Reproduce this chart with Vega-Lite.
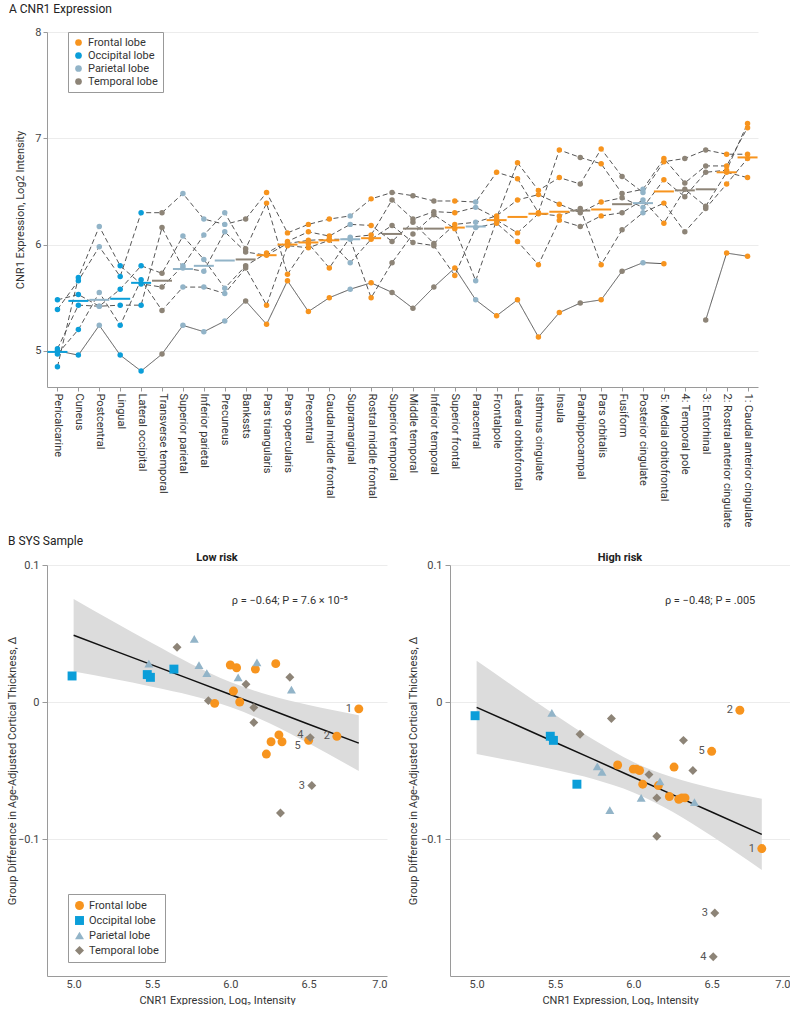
{
  "$schema": "https://vega.github.io/schema/vega-lite/v6.json",
  "background": "white",
  "padding": {"left": 6, "top": 3, "right": 0, "bottom": 0},
  "config": {
    "font": "Liberation Sans Narrow, Roboto, sans-serif",
    "view": {"stroke": null},
    "axis": {"domainColor": "#9a9a9a", "tickColor": "#9a9a9a", "labelColor": "#444", "titleColor": "#333", "labelFontSize": 11, "titleFontSize": 11, "titleFontWeight": "normal", "gridColor": "#ececec"},
    "title": {"color": "#222", "fontWeight": "normal", "fontSize": 12}
  },
  "datasets": {
    "regions": [
      {"region": "Pericalcarine", "lobe": "Occipital lobe", "d1": 5.00, "d2": 5.39, "d3": 4.85, "d4": 5.48, "d5": 5.02, "d6": 4.97, "med": 4.99, "lr": 0.019, "hr": -0.010, "lab": ""},
      {"region": "Cuneus", "lobe": "Occipital lobe", "d1": 4.96, "d2": 5.66, "d3": 5.69, "d4": 5.53, "d5": 5.43, "d6": 5.20, "med": 5.47, "lr": 0.020, "hr": -0.025, "lab": ""},
      {"region": "Postcentral", "lobe": "Parietal lobe", "d1": 5.24, "d2": 5.98, "d3": 6.17, "d4": 5.42, "d5": 5.42, "d6": 5.55, "med": 5.48, "lr": 0.028, "hr": -0.008, "lab": ""},
      {"region": "Lingual", "lobe": "Occipital lobe", "d1": 4.96, "d2": 5.70, "d3": 5.80, "d4": 5.58, "d5": 5.43, "d6": 5.24, "med": 5.49, "lr": 0.018, "hr": -0.028, "lab": ""},
      {"region": "Lateral occipital", "lobe": "Occipital lobe", "d1": 4.81, "d2": 6.30, "d3": 5.63, "d4": 5.80, "d5": 5.43, "d6": 5.67, "med": 5.64, "lr": 0.024, "hr": -0.060, "lab": ""},
      {"region": "Transverse temporal", "lobe": "Temporal lobe", "d1": 4.97, "d2": 6.30, "d3": 5.60, "d4": 5.73, "d5": 6.16, "d6": 5.38, "med": 5.66, "lr": 0.040, "hr": -0.0235, "lab": ""},
      {"region": "Superior parietal", "lobe": "Parietal lobe", "d1": 5.24, "d2": 6.48, "d3": 5.80, "d4": 6.08, "d5": 5.78, "d6": 5.60, "med": 5.77, "lr": 0.046, "hr": -0.047, "lab": ""},
      {"region": "Inferior parietal", "lobe": "Parietal lobe", "d1": 5.18, "d2": 6.24, "d3": 6.09, "d4": 5.86, "d5": 5.75, "d6": 5.60, "med": 5.80, "lr": 0.027, "hr": -0.051, "lab": ""},
      {"region": "Precuneus", "lobe": "Parietal lobe", "d1": 5.28, "d2": 6.19, "d3": 6.30, "d4": 5.59, "d5": 6.12, "d6": 5.54, "med": 5.85, "lr": 0.021, "hr": -0.079, "lab": ""},
      {"region": "Bankssts", "lobe": "Temporal lobe", "d1": 5.47, "d2": 6.24, "d3": 5.96, "d4": 5.80, "d5": 5.93, "d6": 5.78, "med": 5.86, "lr": 0.001, "hr": -0.012, "lab": ""},
      {"region": "Pars triangularis", "lobe": "Frontal lobe", "d1": 5.25, "d2": 6.49, "d3": 6.39, "d4": 5.92, "d5": 5.90, "d6": 5.43, "med": 5.90, "lr": -0.001, "hr": -0.046, "lab": ""},
      {"region": "Pars opercularis", "lobe": "Frontal lobe", "d1": 5.66, "d2": 6.11, "d3": 5.72, "d4": 6.03, "d5": 6.01, "d6": 5.99, "med": 6.00, "lr": 0.027, "hr": -0.049, "lab": ""},
      {"region": "Precentral", "lobe": "Frontal lobe", "d1": 5.37, "d2": 6.19, "d3": 6.01, "d4": 6.12, "d5": 6.04, "d6": 5.97, "med": 6.02, "lr": 0.008, "hr": -0.049, "lab": ""},
      {"region": "Caudal middle frontal", "lobe": "Frontal lobe", "d1": 5.50, "d2": 6.24, "d3": 5.78, "d4": 6.08, "d5": 6.05, "d6": 6.04, "med": 6.04, "lr": 0.025, "hr": -0.050, "lab": ""},
      {"region": "Supramarginal", "lobe": "Parietal lobe", "d1": 5.58, "d2": 6.27, "d3": 6.07, "d4": 6.19, "d5": 6.05, "d6": 5.83, "med": 6.05, "lr": 0.018, "hr": -0.070, "lab": ""},
      {"region": "Rostral middle frontal", "lobe": "Frontal lobe", "d1": 5.64, "d2": 6.43, "d3": 6.09, "d4": 6.18, "d5": 5.50, "d6": 6.05, "med": 6.06, "lr": 0.000, "hr": -0.060, "lab": ""},
      {"region": "Superior temporal", "lobe": "Temporal lobe", "d1": 5.55, "d2": 6.49, "d3": 6.42, "d4": 6.03, "d5": 5.83, "d6": 6.18, "med": 6.10, "lr": 0.013, "hr": -0.053, "lab": ""},
      {"region": "Middle temporal", "lobe": "Temporal lobe", "d1": 5.40, "d2": 6.46, "d3": 6.24, "d4": 6.21, "d5": 6.10, "d6": 6.02, "med": 6.15, "lr": -0.004, "hr": -0.070, "lab": ""},
      {"region": "Inferior temporal", "lobe": "Temporal lobe", "d1": 5.60, "d2": 6.41, "d3": 6.31, "d4": 6.01, "d5": 6.28, "d6": 5.99, "med": 6.15, "lr": -0.015, "hr": -0.098, "lab": ""},
      {"region": "Superior frontal", "lobe": "Frontal lobe", "d1": 5.78, "d2": 6.41, "d3": 6.30, "d4": 6.19, "d5": 6.15, "d6": 5.71, "med": 6.16, "lr": 0.024, "hr": -0.061, "lab": ""},
      {"region": "Paracentral", "lobe": "Parietal lobe", "d1": 5.48, "d2": 6.40, "d3": 6.35, "d4": 6.21, "d5": 5.66, "d6": 6.16, "med": 6.17, "lr": 0.029, "hr": -0.058, "lab": ""},
      {"region": "Frontalpole", "lobe": "Frontal lobe", "d1": 5.33, "d2": 6.68, "d3": 6.25, "d4": 6.27, "d5": 6.23, "d6": 6.20, "med": 6.23, "lr": -0.038, "hr": -0.069, "lab": ""},
      {"region": "Lateral orbitofrontal", "lobe": "Frontal lobe", "d1": 5.48, "d2": 6.62, "d3": 6.77, "d4": 6.42, "d5": 6.11, "d6": 6.03, "med": 6.26, "lr": -0.029, "hr": -0.0475, "lab": ""},
      {"region": "Isthmus cingulate", "lobe": "Frontal lobe", "d1": 5.13, "d2": 6.30, "d3": 6.51, "d4": 6.47, "d5": 6.29, "d6": 5.81, "med": 6.29, "lr": 0.028, "hr": -0.071, "lab": ""},
      {"region": "Insula", "lobe": "Frontal lobe", "d1": 5.36, "d2": 6.89, "d3": 6.63, "d4": 6.38, "d5": 6.27, "d6": 6.23, "med": 6.31, "lr": -0.024, "hr": -0.070, "lab": ""},
      {"region": "Parahippocampal", "lobe": "Temporal lobe", "d1": 5.45, "d2": 6.82, "d3": 6.57, "d4": 6.30, "d5": 6.34, "d6": 6.17, "med": 6.32, "lr": -0.081, "hr": -0.028, "lab": ""},
      {"region": "Pars orbitalis", "lobe": "Frontal lobe", "d1": 5.48, "d2": 6.76, "d3": 6.90, "d4": 6.40, "d5": 5.81, "d6": 6.27, "med": 6.33, "lr": -0.029, "hr": -0.070, "lab": ""},
      {"region": "Fusiform", "lobe": "Temporal lobe", "d1": 5.75, "d2": 6.48, "d3": 6.64, "d4": 6.44, "d5": 6.14, "d6": 6.30, "med": 6.38, "lr": 0.018, "hr": -0.050, "lab": ""},
      {"region": "Posterior cingulate", "lobe": "Parietal lobe", "d1": 5.83, "d2": 6.52, "d3": 6.49, "d4": 6.35, "d5": 6.30, "d6": 6.42, "med": 6.39, "lr": 0.009, "hr": -0.073, "lab": ""},
      {"region": "5: Medial orbitofrontal", "lobe": "Frontal lobe", "d1": 5.82, "d2": 6.81, "d3": 6.78, "d4": 6.61, "d5": 6.39, "d6": 6.20, "med": 6.50, "lr": -0.028, "hr": -0.036, "lab": "5"},
      {"region": "4: Temporal pole", "lobe": "Temporal lobe", "d1": null, "d2": 6.58, "d3": 6.81, "d4": 6.45, "d5": 6.12, "d6": 6.52, "med": 6.51, "lr": -0.026, "hr": -0.186, "lab": "4"},
      {"region": "3: Entorhinal", "lobe": "Temporal lobe", "d1": 5.29, "d2": 6.74, "d3": 6.89, "d4": 6.68, "d5": 6.34, "d6": 6.36, "med": 6.52, "lr": -0.061, "hr": -0.154, "lab": "3"},
      {"region": "2: Rostral anterior cingulate", "lobe": "Frontal lobe", "d1": 5.92, "d2": 6.74, "d3": 6.85, "d4": 6.70, "d5": 6.57, "d6": 6.68, "med": 6.68, "lr": -0.025, "hr": -0.006, "lab": "2"},
      {"region": "1: Caudal anterior cingulate", "lobe": "Frontal lobe", "d1": 5.89, "d2": 7.10, "d3": 6.85, "d4": 7.14, "d5": 6.81, "d6": 6.63, "med": 6.82, "lr": -0.005, "hr": -0.107, "lab": "1"}
    ],
    "bands": [
      {"x": 5.0, "lrlo": 0.0222, "lrhi": 0.0752, "lrfit": 0.0487, "hrlo": -0.0379, "hrhi": 0.0301, "hrfit": -0.0039},
      {"x": 5.25, "lrlo": 0.0169, "lrhi": 0.0589, "lrfit": 0.0379, "hrlo": -0.0435, "hrhi": 0.0103, "hrfit": -0.0166},
      {"x": 5.5, "lrlo": 0.0112, "lrhi": 0.0430, "lrfit": 0.0271, "hrlo": -0.0495, "hrhi": -0.0093, "hrfit": -0.0294},
      {"x": 5.75, "lrlo": 0.0048, "lrhi": 0.0278, "lrfit": 0.0163, "hrlo": -0.0564, "hrhi": -0.0278, "hrfit": -0.0421},
      {"x": 6.0, "lrlo": -0.0036, "lrhi": 0.0146, "lrfit": 0.0055, "hrlo": -0.0660, "hrhi": -0.0438, "hrfit": -0.0549},
      {"x": 6.25, "lrlo": -0.0155, "lrhi": 0.0049, "lrfit": -0.0053, "hrlo": -0.0802, "hrhi": -0.0550, "hrfit": -0.0676},
      {"x": 6.5, "lrlo": -0.0302, "lrhi": -0.0022, "lrfit": -0.0162, "hrlo": -0.0979, "hrhi": -0.0627, "hrfit": -0.0803},
      {"x": 6.82, "lrlo": -0.0504, "lrhi": -0.0096, "lrfit": -0.0300, "hrlo": -0.1226, "hrhi": -0.0706, "hrfit": -0.0966}
    ],
    "notes": [
      {"panel": "lr", "x": 6.38, "y": 0.074, "t": "ρ = −0.64; P = 7.6 × 10⁻⁵"},
      {"panel": "hr", "x": 6.49, "y": 0.074, "t": "ρ = −0.48; P = .005"}
    ]
  },
  "resolve": {"scale": {"color": "independent", "shape": "independent"}, "legend": {"color": "independent", "shape": "independent"}},
  "bounds": "flush",
  "spacing": 178,
  "vconcat": [
    {
      "title": {"text": "A   CNR1 Expression", "anchor": "start", "offset": 10, "dx": -5},
      "width": 711,
      "height": 355,
      "data": {"name": "regions"},
      "encoding": {
        "x": {
          "field": "region", "type": "ordinal",
          "sort": ["Pericalcarine","Cuneus","Postcentral","Lingual","Lateral occipital","Transverse temporal","Superior parietal","Inferior parietal","Precuneus","Bankssts","Pars triangularis","Pars opercularis","Precentral","Caudal middle frontal","Supramarginal","Rostral middle frontal","Superior temporal","Middle temporal","Inferior temporal","Superior frontal","Paracentral","Frontalpole","Lateral orbitofrontal","Isthmus cingulate","Insula","Parahippocampal","Pars orbitalis","Fusiform","Posterior cingulate","5: Medial orbitofrontal","4: Temporal pole","3: Entorhinal","2: Rostral anterior cingulate","1: Caudal anterior cingulate"],
          "scale": {"type": "point", "padding": 0.5},
          "axis": {"title": null, "labelAngle": 90, "tickSize": 4, "labelPadding": 2, "labelColor": "#333", "grid": false}
        }
      },
      "layer": [
        {
          "transform": [{"fold": ["d1", "d2", "d3", "d4", "d5", "d6"], "as": ["donor", "val"]}],
          "mark": {"type": "line", "strokeWidth": 1, "color": "#555", "invalid": "break-paths-show-domains"},
          "encoding": {
            "y": {"field": "val", "type": "quantitative", "scale": {"domain": [4.66, 8], "nice": false, "zero": false},
                  "axis": {"title": "CNR1 Expression, Log2 Intensity", "values": [5, 6, 7, 8], "format": "d", "grid": true, "tickSize": 4, "labelPadding": 2, "titleX": -22}},
            "detail": {"field": "donor"},
            "strokeDash": {"field": "donor", "type": "nominal", "scale": {"domain": ["d1", "d2", "d3", "d4", "d5", "d6"], "range": [[1, 0], [5, 3], [5, 3], [5, 3], [5, 3], [5, 3]]}, "legend": null}
          }
        },
        {
          "mark": {"type": "tick", "thickness": 2, "size": 20, "opacity": 1},
          "encoding": {
            "y": {"field": "med", "type": "quantitative"},
            "color": {"field": "lobe", "type": "nominal", "scale": {"domain": ["Frontal lobe", "Occipital lobe", "Parietal lobe", "Temporal lobe"], "range": ["#F7941E", "#0B9ED9", "#92B4C8", "#8D8477"]}}
          }
        },
        {
          "transform": [{"fold": ["d1", "d2", "d3", "d4", "d5", "d6"], "as": ["donor", "val"]}],
          "mark": {"type": "circle", "size": 30, "opacity": 1},
          "encoding": {
            "y": {"field": "val", "type": "quantitative"},
            "color": {"field": "lobe", "type": "nominal",
                      "legend": {"title": null, "orient": "none", "legendX": 21, "legendY": 0, "strokeColor": "#999", "fillColor": "white", "padding": 5, "labelFontSize": 11, "labelColor": "#333", "symbolSize": 45, "symbolType": "circle", "rowPadding": 1}}
          }
        }
      ]
    },
    {
      "title": {"text": "B   SYS Sample", "anchor": "start", "offset": 4, "dx": 2},
      "bounds": "flush",
      "spacing": 63,
      "resolve": {"scale": {"color": "independent", "shape": "independent"}, "legend": {"color": "independent", "shape": "independent"}},
      "hconcat": [
        {
          "width": 340,
          "height": 411,
          "title": {"text": "Low risk", "fontSize": 11, "fontWeight": "bold", "offset": -4},
          "layer": [
            {
              "data": {"name": "bands"},
              "mark": {"type": "area", "color": "#dcdcdc", "interpolate": "monotone"},
              "encoding": {
                "x": {"field": "x", "type": "quantitative", "scale": {"domain": [4.83, 7.0], "nice": false, "zero": false},
                      "axis": {"title": "CNR1 Expression, Log₂ Intensity", "values": [5, 5.5, 6, 6.5, 7], "format": ".1f", "grid": false, "ticks": false, "labelPadding": 2, "titlePadding": 5}},
                "y": {"field": "lrlo", "type": "quantitative", "scale": {"domain": [-0.2, 0.1], "nice": false},
                      "axis": {"title": "Group Difference in Age-Adjusted Cortical Thickness, Δ", "values": [0.1, 0, -0.1], "format": "~g", "grid": true, "tickSize": 5, "labelPadding": 3, "titleX": -30}},
                "y2": {"field": "lrhi"}
              }
            },
            {
              "data": {"name": "bands"},
              "mark": {"type": "line", "color": "#111", "strokeWidth": 1.5},
              "encoding": {"x": {"field": "x", "type": "quantitative"}, "y": {"field": "lrfit", "type": "quantitative"}}
            },
            {
              "data": {"name": "regions"},
              "mark": {"type": "point", "filled": true, "size": 80, "opacity": 1},
              "encoding": {
                "x": {"field": "med", "type": "quantitative"},
                "y": {"field": "lr", "type": "quantitative"},
                "color": {"field": "lobe", "type": "nominal", "scale": {"domain": ["Frontal lobe", "Occipital lobe", "Parietal lobe", "Temporal lobe"], "range": ["#F7941E", "#0B9ED9", "#92B4C8", "#8D8477"]},
                          "legend": {"title": null, "orient": "none", "legendX": 21, "legendY": 329, "strokeColor": "#999", "fillColor": "white", "padding": 6, "labelFontSize": 11, "labelColor": "#333", "symbolSize": 80, "rowPadding": 3}},
                "shape": {"field": "lobe", "type": "nominal", "scale": {"domain": ["Frontal lobe", "Occipital lobe", "Parietal lobe", "Temporal lobe"], "range": ["circle", "square", "triangle-up", "diamond"]},
                          "legend": {"title": null, "orient": "none", "legendX": 21, "legendY": 329, "strokeColor": "#999", "fillColor": "white", "padding": 6, "labelFontSize": 11, "labelColor": "#333", "symbolSize": 80, "rowPadding": 3}}
              }
            },
            {
              "data": {"name": "regions"},
              "transform": [{"filter": "datum.lab == '1' || datum.lab == '2' || datum.lab == '3'"}],
              "mark": {"type": "text", "dx": -10, "fontSize": 11, "color": "#555", "baseline": "middle"},
              "encoding": {"x": {"field": "med", "type": "quantitative"}, "y": {"field": "lr", "type": "quantitative"}, "text": {"field": "lab"}}
            },
            {
              "data": {"name": "regions"},
              "transform": [{"filter": "datum.lab == '4'"}],
              "mark": {"type": "text", "dx": -10, "dy": -3, "fontSize": 11, "color": "#555", "baseline": "middle"},
              "encoding": {"x": {"field": "med", "type": "quantitative"}, "y": {"field": "lr", "type": "quantitative"}, "text": {"field": "lab"}}
            },
            {
              "data": {"name": "regions"},
              "transform": [{"filter": "datum.lab == '5'"}],
              "mark": {"type": "text", "dx": -11, "dy": 6, "fontSize": 11, "color": "#555", "baseline": "middle"},
              "encoding": {"x": {"field": "med", "type": "quantitative"}, "y": {"field": "lr", "type": "quantitative"}, "text": {"field": "lab"}}
            },
            {
              "data": {"name": "notes"},
              "transform": [{"filter": "datum.panel == 'lr'"}],
              "mark": {"type": "text", "fontSize": 11, "color": "#333", "align": "center", "baseline": "middle"},
              "encoding": {"x": {"field": "x", "type": "quantitative"}, "y": {"field": "y", "type": "quantitative"}, "text": {"field": "t"}}
            }
          ]
        },
        {
          "width": 340,
          "height": 411,
          "title": {"text": "High risk", "fontSize": 11, "fontWeight": "bold", "offset": -4},
          "layer": [
            {
              "data": {"name": "bands"},
              "mark": {"type": "area", "color": "#dcdcdc", "interpolate": "monotone"},
              "encoding": {
                "x": {"field": "x", "type": "quantitative", "scale": {"domain": [4.83, 7.0], "nice": false, "zero": false},
                      "axis": {"title": "CNR1 Expression, Log₂ Intensity", "values": [5, 5.5, 6, 6.5, 7], "format": ".1f", "grid": false, "ticks": false, "labelPadding": 2, "titlePadding": 5}},
                "y": {"field": "hrlo", "type": "quantitative", "scale": {"domain": [-0.2, 0.1], "nice": false},
                      "axis": {"title": "Group Difference in Age-Adjusted Cortical Thickness, Δ", "values": [0.1, 0, -0.1], "format": "~g", "grid": true, "tickSize": 5, "labelPadding": 3, "titleX": -32}},
                "y2": {"field": "hrhi"}
              }
            },
            {
              "data": {"name": "bands"},
              "mark": {"type": "line", "color": "#111", "strokeWidth": 1.5},
              "encoding": {"x": {"field": "x", "type": "quantitative"}, "y": {"field": "hrfit", "type": "quantitative"}}
            },
            {
              "data": {"name": "regions"},
              "mark": {"type": "point", "filled": true, "size": 80, "opacity": 1},
              "encoding": {
                "x": {"field": "med", "type": "quantitative"},
                "y": {"field": "hr", "type": "quantitative"},
                "color": {"field": "lobe", "type": "nominal", "scale": {"domain": ["Frontal lobe", "Occipital lobe", "Parietal lobe", "Temporal lobe"], "range": ["#F7941E", "#0B9ED9", "#92B4C8", "#8D8477"]}, "legend": null},
                "shape": {"field": "lobe", "type": "nominal", "scale": {"domain": ["Frontal lobe", "Occipital lobe", "Parietal lobe", "Temporal lobe"], "range": ["circle", "square", "triangle-up", "diamond"]}, "legend": null}
              }
            },
            {
              "data": {"name": "regions"},
              "transform": [{"filter": "datum.lab != ''"}],
              "mark": {"type": "text", "dx": -10, "fontSize": 11, "color": "#555", "baseline": "middle"},
              "encoding": {"x": {"field": "med", "type": "quantitative"}, "y": {"field": "hr", "type": "quantitative"}, "text": {"field": "lab"}}
            },
            {
              "data": {"name": "notes"},
              "transform": [{"filter": "datum.panel == 'hr'"}],
              "mark": {"type": "text", "fontSize": 11, "color": "#333", "align": "center", "baseline": "middle"},
              "encoding": {"x": {"field": "x", "type": "quantitative"}, "y": {"field": "y", "type": "quantitative"}, "text": {"field": "t"}}
            }
          ]
        }
      ]
    }
  ]
}
